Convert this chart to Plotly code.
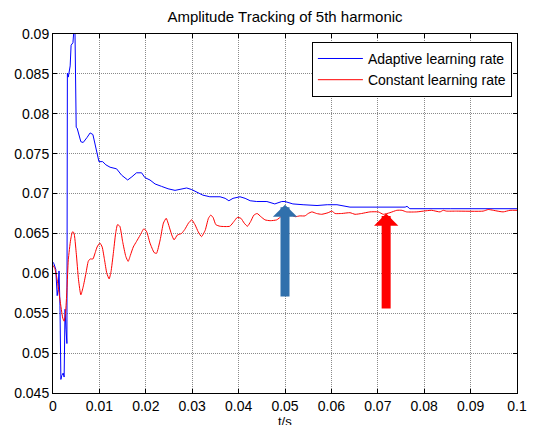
import plotly.graph_objects as go

# ---------------- data ----------------
t_adaptive = [0.0000, 0.0002, 0.0006, 0.0009, 0.0011, 0.0013, 0.0015, 0.0017, 0.0019, 0.0022,
              0.0024, 0.0026, 0.0028, 0.0030, 0.0031, 0.0033, 0.0037, 0.0039, 0.0043, 0.0045,
              0.0047, 0.0050, 0.0052, 0.0060, 0.0065, 0.0073, 0.0080, 0.0086, 0.0094, 0.0099,
              0.0107, 0.0114, 0.0123, 0.0137, 0.0148, 0.0161, 0.0170, 0.0180, 0.0191, 0.0198,
              0.0209, 0.0220, 0.0234, 0.0248, 0.0263, 0.0274, 0.0288, 0.0299, 0.0310, 0.0323,
              0.0338, 0.0360, 0.0371, 0.0379, 0.0388, 0.0403, 0.0414, 0.0425, 0.0439, 0.0461,
              0.0478, 0.0493, 0.0500, 0.0517, 0.0539, 0.0569, 0.0591, 0.0612, 0.0640, 0.0711,
              0.0744, 0.0759, 0.0763, 0.0769, 0.0856, 0.0927, 0.1000]
amp_adaptive = [0.0614, 0.0612, 0.0605, 0.0572, 0.0580, 0.0603, 0.0560, 0.0467, 0.0472, 0.0475,
                0.0470, 0.0555, 0.0530, 0.0512, 0.0851, 0.0846, 0.0860, 0.0886, 0.0889, 0.0905,
                0.0920, 0.0783, 0.0782, 0.0765, 0.0764, 0.0770, 0.0776, 0.0774, 0.0755, 0.0740,
                0.0740, 0.0736, 0.0733, 0.0731, 0.0723, 0.0717, 0.0721, 0.0726, 0.0726, 0.0720,
                0.0717, 0.0712, 0.0709, 0.0706, 0.0704, 0.0705, 0.0707, 0.0705, 0.0702, 0.0698,
                0.0696, 0.0696, 0.0694, 0.0691, 0.0694, 0.0696, 0.0694, 0.0691, 0.0690, 0.0690,
                0.0687, 0.0690, 0.0690, 0.0687, 0.0686, 0.0685, 0.0686, 0.0686, 0.0683, 0.0683,
                0.0683, 0.0683, 0.0684, 0.0681, 0.0681, 0.0681, 0.0681]

t_constant = [0.0000, 0.0004, 0.0009, 0.0015, 0.0021, 0.0024, 0.0027, 0.0030, 0.0033, 0.0038,
              0.0042, 0.0045, 0.0050, 0.0055, 0.0060, 0.0065, 0.0071, 0.0076, 0.0080, 0.0086,
              0.0091, 0.0095, 0.0101, 0.0106, 0.0111, 0.0116, 0.0121, 0.0125, 0.0130, 0.0135,
              0.0139, 0.0144, 0.0150, 0.0157, 0.0162, 0.0167, 0.0173, 0.0180, 0.0188, 0.0196,
              0.0202, 0.0209, 0.0218, 0.0223, 0.0231, 0.0238, 0.0244, 0.0248, 0.0256, 0.0261,
              0.0268, 0.0277, 0.0284, 0.0292, 0.0299, 0.0306, 0.0313, 0.0320, 0.0328, 0.0335,
              0.0340, 0.0345, 0.0351, 0.0360, 0.0381, 0.0390, 0.0397, 0.0405, 0.0412, 0.0419,
              0.0426, 0.0433, 0.0440, 0.0448, 0.0457, 0.0468, 0.0482, 0.0493, 0.0500, 0.0511,
              0.0522, 0.0532, 0.0543, 0.0550, 0.0558, 0.0568, 0.0579, 0.0593, 0.0601, 0.0608,
              0.0622, 0.0640, 0.0651, 0.0665, 0.0683, 0.0701, 0.0712, 0.0726, 0.0741, 0.0752,
              0.0762, 0.0784, 0.0798, 0.0816, 0.0834, 0.0841, 0.0848, 0.0870, 0.0927, 0.0938,
              0.0949, 0.0970, 0.0985, 0.1000]
amp_constant = [0.0610, 0.0606, 0.0592, 0.0567, 0.0544, 0.0540, 0.0550, 0.0579, 0.0617, 0.0642,
                0.0652, 0.0651, 0.0626, 0.0592, 0.0573, 0.0583, 0.0600, 0.0615, 0.0618, 0.0618,
                0.0626, 0.0633, 0.0638, 0.0633, 0.0617, 0.0600, 0.0593, 0.0602, 0.0625, 0.0650,
                0.0661, 0.0659, 0.0640, 0.0621, 0.0615, 0.0623, 0.0633, 0.0640, 0.0648, 0.0656,
                0.0652, 0.0638, 0.0626, 0.0625, 0.0642, 0.0663, 0.0669, 0.0663, 0.0648, 0.0642,
                0.0648, 0.0650, 0.0655, 0.0663, 0.0667, 0.0661, 0.0652, 0.0646, 0.0654, 0.0669,
                0.0673, 0.0670, 0.0661, 0.0659, 0.0659, 0.0665, 0.0670, 0.0669, 0.0663, 0.0659,
                0.0665, 0.0673, 0.0675, 0.0671, 0.0667, 0.0666, 0.0667, 0.0672, 0.0677, 0.0674,
                0.0671, 0.0672, 0.0672, 0.0675, 0.0677, 0.0675, 0.0674, 0.0676, 0.0678, 0.0675,
                0.0675, 0.0676, 0.0674, 0.0675, 0.0677, 0.0677, 0.0674, 0.0676, 0.0679, 0.0679,
                0.0677, 0.0677, 0.0678, 0.0679, 0.0677, 0.0679, 0.0678, 0.0678, 0.0678, 0.0680,
                0.0679, 0.0677, 0.0679, 0.0679]

x_ticks = [0, 0.01, 0.02, 0.03, 0.04, 0.05, 0.06, 0.07, 0.08, 0.09, 0.1]
x_tick_labels = ["0", "0.01", "0.02", "0.03", "0.04", "0.05", "0.06", "0.07", "0.08", "0.09", "0.1"]
y_ticks = [0.045, 0.05, 0.055, 0.06, 0.065, 0.07, 0.075, 0.08, 0.085, 0.09]
y_tick_labels = ["0.045", "0.05", "0.055", "0.06", "0.065", "0.07", "0.075", "0.08", "0.085", "0.09"]

# arrows: (tip t, tip value, tail value)
blue_arrow = (0.0500, 0.0686, 0.0569)
red_arrow = (0.0718, 0.0675, 0.0554)

FONT = "Liberation Sans, Arial, sans-serif"

fig = go.Figure()
fig.add_trace(go.Scatter(x=t_adaptive, y=amp_adaptive, mode="lines",
                         name="Adaptive learning rate",
                         line=dict(color="#0000FF", width=1)))
fig.add_trace(go.Scatter(x=t_constant, y=amp_constant, mode="lines",
                         name="Constant learning rate",
                         line=dict(color="#FF0000", width=1, shape="spline", smoothing=0.5)))

for (tx, ty, tail), col in [(blue_arrow, "#3070AC"), (red_arrow, "#FF0000")]:
    fig.add_annotation(x=tx, y=ty, ax=tx, ay=tail, xref="x", yref="y", axref="x", ayref="y",
                       text="", showarrow=True, arrowhead=1, arrowsize=0.45, arrowwidth=9,
                       arrowcolor=col)

# x-axis title placed just below the tick labels (partly cut off, as in the reference)
fig.add_annotation(text="t/s", x=0.5, xref="paper", y=-0.079, yref="paper",
                   xanchor="center", yanchor="middle", showarrow=False,
                   font=dict(family=FONT, size=13, color="black"))

axis_common = dict(showline=True, linecolor="black", linewidth=1, mirror="ticks",
                   ticks="inside", ticklen=4, tickcolor="black",
                   showgrid=True, gridcolor="#8a8a8a", griddash="1px,1px", gridwidth=1,
                   zeroline=False, automargin=False,
                   tickfont=dict(family=FONT, size=14, color="black"))

fig.update_xaxes(range=[0, 0.1], tickvals=x_ticks, ticktext=x_tick_labels, **axis_common)
fig.update_yaxes(range=[0.045, 0.09], tickvals=y_ticks, ticktext=y_tick_labels, **axis_common)

fig.update_layout(
    width=533, height=425,
    margin=dict(l=53, r=16, t=34, b=32),
    paper_bgcolor="white", plot_bgcolor="white",
    title=dict(text="Amplitude Tracking of 5th harmonic", x=0.5, xanchor="center",
               xref="paper", y=1 - 17 / 425, yref="container", yanchor="middle",
               font=dict(family=FONT, size=15, color="black")),
    legend=dict(x=0.989, y=0.978, xanchor="right", yanchor="top",
                bgcolor="white", bordercolor="black", borderwidth=1,
                font=dict(family=FONT, size=14, color="black"),
                tracegroupgap=0, itemwidth=45),
    showlegend=True,
)

fig.write_html("out.html")
